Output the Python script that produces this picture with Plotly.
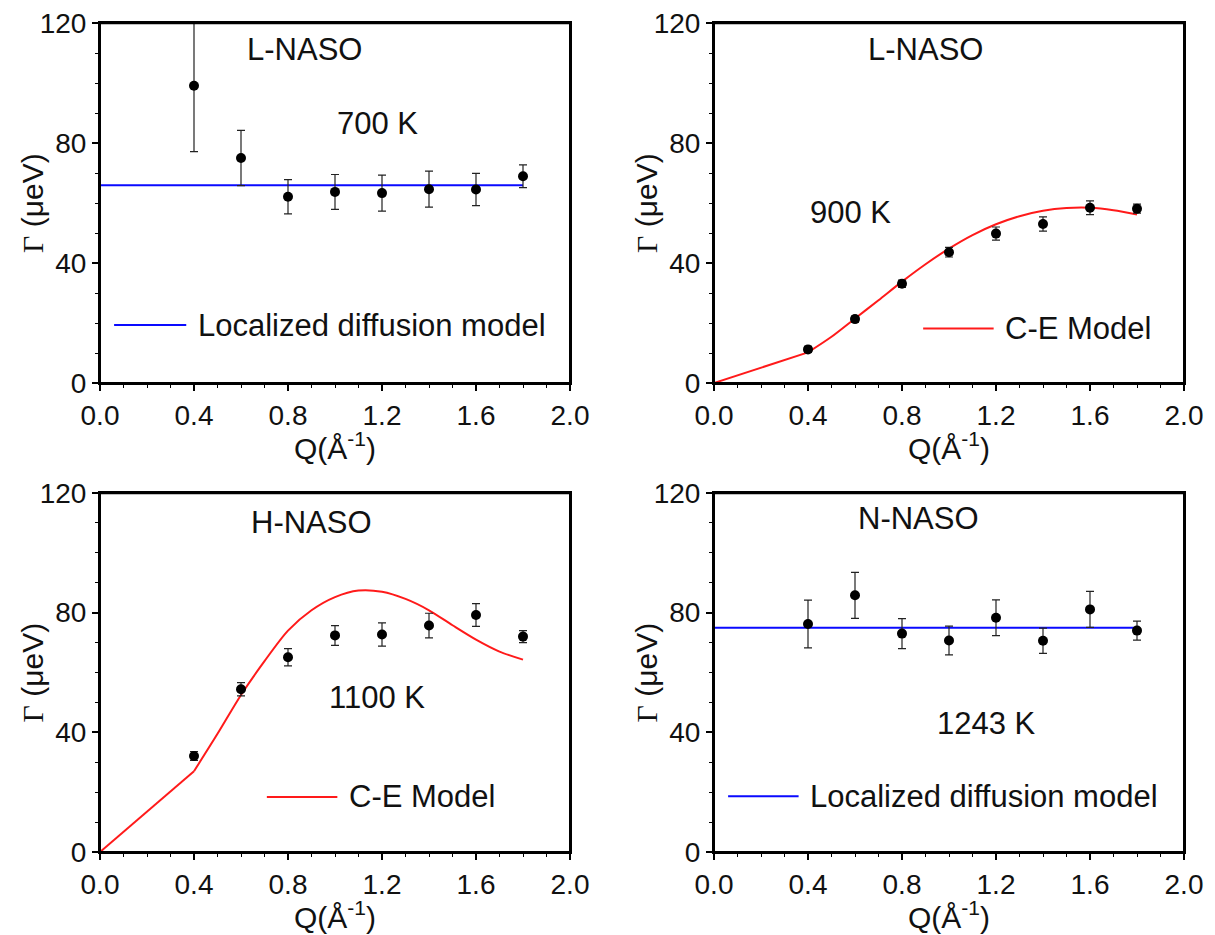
import plotly.graph_objects as go

# ---------------- data ----------------
Q = [0.4, 0.6, 0.8, 1.0, 1.2, 1.4, 1.6, 1.8]

g700 = [99.1, 75.0, 62.1, 63.7, 63.3, 64.6, 64.5, 68.9]
e700 = [22.0, 9.2, 5.7, 5.8, 6.0, 6.0, 5.4, 3.8]

g900 = [11.2, 21.3, 33.1, 43.6, 49.8, 53.0, 58.4, 58.1]
e900 = [1.0, 1.0, 1.2, 1.6, 2.2, 2.4, 2.3, 1.5]

g1100 = [32.1, 54.4, 65.1, 72.4, 72.7, 75.7, 79.2, 72.0]
e1100 = [1.5, 2.2, 2.9, 3.3, 3.9, 4.1, 3.8, 2.0]

g1243 = [76.2, 85.8, 73.0, 70.7, 78.3, 70.6, 81.1, 74.0]
e1243 = [8.0, 7.7, 5.0, 4.8, 6.0, 4.2, 6.0, 3.2]

loc_q = [0.0, 1.8]
loc700 = [65.9, 65.9]
loc1243 = [75.0, 75.0]

ce_q = [0.0, 0.4, 0.5, 0.6, 0.7, 0.8, 0.9, 1.0, 1.1, 1.2, 1.3, 1.4, 1.5, 1.6, 1.7, 1.8]
ce900 = [0.0, 10.2, 15.4, 21.5, 27.6, 33.8, 39.6, 44.8, 49.3, 52.9, 55.6, 57.4, 58.3, 58.4, 57.6, 56.2]
ce1100 = [0.0, 27.0, 39.5, 52.5, 63.8, 74.0, 80.8, 85.2, 87.4, 87.0, 84.6, 80.8, 75.8, 71.0, 67.0, 64.3]

panel_names = ["L-NASO", "L-NASO", "H-NASO", "N-NASO"]
temps = ["700 K", "900 K", "1100 K", "1243 K"]
legend_names = ["Localized diffusion model", "C-E Model", "C-E Model", "Localized diffusion model"]

x_ticks = [0.0, 0.4, 0.8, 1.2, 1.6, 2.0]
x_tick_text = ["0.0", "0.4", "0.8", "1.2", "1.6", "2.0"]
y_ticks = [0, 40, 80, 120]

x_title = "Q(Å<sup>-1</sup>)"
y_title = "<span style='font-family:Liberation Serif'>Γ</span> (μeV)"

# ---------------- layout ----------------
W, H = 1215, 935
FONT = "Liberation Sans, Arial, sans-serif"
FS_TICK = 28
FS_TEXT = 31
FS_TITLE = 30
BLUE = "#0a0aff"
RED = "#ff1a1a"

# pixel boxes of the four panels: (left, right, top, bottom)
boxes = [(100, 570, 23, 383), (714, 1184, 23, 383),
         (100, 570, 493, 852), (714, 1184, 493, 852)]

fig = go.Figure()


def xd(l, r):
    return [l / W, r / W]


def yd(t, b):
    return [1 - b / H, 1 - t / H]


data_sets = [(g700, e700), (g900, e900), (g1100, e1100), (g1243, e1243)]
models = [("loc", loc700), ("ce", ce900), ("ce", ce1100), ("loc", loc1243)]
name_pos = [(0.87, 111.2), (0.90, 111.2), (0.90, 110.0), (0.87, 111.6)]
temp_pos = [(1.18, 86.5), (0.58, 57.0), (1.18, 51.7), (1.16, 43.0)]
leg_line = [(0.06, 0.367), (0.89, 1.19), (0.71, 1.01), (0.06, 0.36)]
leg_y = [19.3, 18.2, 18.4, 18.6]

for i in range(4):
    n = i + 1
    xa = "x" if n == 1 else f"x{n}"
    ya = "y" if n == 1 else f"y{n}"
    kind, vals = models[i]
    color = BLUE if kind == "loc" else RED
    if kind == "loc":
        fig.add_trace(go.Scatter(x=loc_q, y=vals, mode="lines",
                                 line=dict(color=color, width=2),
                                 xaxis=xa, yaxis=ya, showlegend=False))
    else:
        fig.add_trace(go.Scatter(x=ce_q[:2], y=vals[:2], mode="lines",
                                 line=dict(color=color, width=2),
                                 xaxis=xa, yaxis=ya, showlegend=False))
        fig.add_trace(go.Scatter(x=ce_q[1:], y=vals[1:], mode="lines",
                                 line=dict(color=color, width=2, shape="spline", smoothing=0.8),
                                 xaxis=xa, yaxis=ya, showlegend=False))
    g, e = data_sets[i]
    fig.add_trace(go.Scatter(x=Q, y=g, mode="markers",
                             marker=dict(color="black", size=10),
                             error_y=dict(type="data", array=e, visible=True,
                                          color="#222222", thickness=1.2, width=4),
                             xaxis=xa, yaxis=ya, showlegend=False))

    l, r, t, b = boxes[i]
    axis_common = dict(showline=True, linecolor="black", linewidth=2, mirror=True,
                       ticks="outside", ticklen=6, tickwidth=1.5, tickcolor="black",
                       showgrid=False, zeroline=False, automargin=False,
                       ticklabeloverflow="allow",
                       tickfont=dict(family=FONT, size=FS_TICK, color="#111111"))
    fig.layout[f"xaxis{'' if n == 1 else n}"] = dict(
        domain=xd(l, r), anchor=ya, range=[0, 2.0],
        tickmode="array", tickvals=x_ticks, ticktext=x_tick_text,
        minor=dict(dtick=0.1, tick0=0, ticks="outside", ticklen=3, tickcolor="black", tickwidth=1.2),
        **axis_common)
    fig.layout[f"yaxis{'' if n == 1 else n}"] = dict(
        domain=yd(t, b), anchor=xa, range=[0, 120],
        tickmode="array", tickvals=y_ticks,
        minor=dict(dtick=10, tick0=0, ticks="outside", ticklen=3, tickcolor="black", tickwidth=1.2),
        **axis_common)

    # full frame around the panel, in paper coordinates (not clipped by the subplot)
    dx, dy = xd(l, r), yd(t, b)
    fig.add_shape(type="rect", x0=dx[0], x1=dx[1], y0=dy[0], y1=dy[1],
                  xref="paper", yref="paper",
                  line=dict(color="black", width=2), fillcolor="rgba(0,0,0,0)",
                  layer="above")
    # top edge drawn once more, a little heavier, so it is never lost
    fig.add_shape(type="line", x0=dx[0], x1=dx[1], y0=dy[1], y1=dy[1],
                  xref="paper", yref="paper",
                  line=dict(color="black", width=2.5), layer="above")

    # axis titles
    fig.add_annotation(x=0.5, y=0, xref=f"{xa} domain", yref=f"{ya} domain",
                       text=x_title, showarrow=False, yanchor="middle", yshift=-63,
                       font=dict(family=FONT, size=FS_TITLE, color="#111111"))
    fig.add_annotation(x=(l - 68) / W, y=0.5, xref="paper", yref=f"{ya} domain",
                       text=y_title, showarrow=False, textangle=-90,
                       xanchor="center", yanchor="middle",
                       font=dict(family=FONT, size=FS_TITLE, color="#111111"))

    # panel labels
    fig.add_annotation(x=name_pos[i][0], y=name_pos[i][1], xref=xa, yref=ya,
                       text=panel_names[i], showarrow=False,
                       font=dict(family=FONT, size=FS_TEXT, color="#111111"))
    fig.add_annotation(x=temp_pos[i][0], y=temp_pos[i][1], xref=xa, yref=ya,
                       text=temps[i], showarrow=False,
                       font=dict(family=FONT, size=FS_TEXT, color="#111111"))
    # legend sample + text
    x0, x1 = leg_line[i]
    fig.add_shape(type="line", x0=x0, x1=x1, y0=leg_y[i], y1=leg_y[i],
                  xref=xa, yref=ya, line=dict(color=color, width=2))
    fig.add_annotation(x=x1 + 0.04, y=leg_y[i], xref=xa, yref=ya,
                       text=legend_names[i], showarrow=False, xanchor="left",
                       font=dict(family=FONT, size=FS_TEXT, color="#111111"))

fig.update_layout(width=W, height=H, margin=dict(l=0, r=0, t=0, b=0),
                  paper_bgcolor="white", plot_bgcolor="white", showlegend=False)

# remove the default 8 px page margin so the figure fills the window exactly
fig.write_html("out.html", config={"displayModeBar": False},
               post_script="document.body.style.margin='0';document.body.style.overflow='hidden';")
